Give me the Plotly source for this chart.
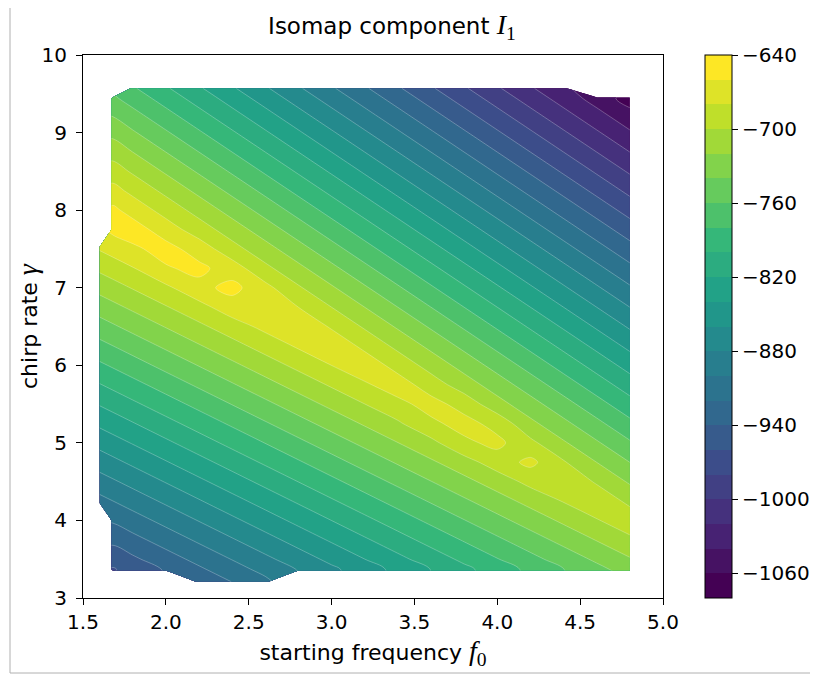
import plotly.graph_objects as go
from plotly.colors import sample_colorscale

N = None
# starting frequency f0 grid (columns) and chirp rate gamma grid (rows)
f0 = [1.60, 1.68, 1.8, 2.0, 2.2, 2.4, 2.6, 2.8, 3.0, 3.2, 3.4, 3.6, 3.8, 4.0, 4.2, 4.4, 4.6, 4.8]
gamma = [3.21, 3.37, 3.5, 3.75, 4.0, 4.25, 4.5, 4.75, 5.0, 5.25, 5.5, 5.75, 6.0, 6.25,
         6.5, 6.75, 7.0, 7.25, 7.5, 7.75, 8.0, 8.25, 8.5, 8.75, 9.0, 9.25, 9.44, 9.57]

# Isomap component I1 (None = no samples)
I1 = [
    [N, N, N, N, -934.4, -919.6, -904.8, N, N, N, N, N, N, N, N, N, N, N],
    [N, -961.7, -952.8, -938.0, -923.2, -908.4, -893.6, -878.8, -864.0, -849.2, -834.4, -819.6, -804.8, -790.0, -775.2, -760.4, -745.6, -730.8],
    [N, -952.6, -943.7, -928.9, -914.1, -899.3, -884.5, -869.7, -854.9, -840.1, -825.3, -810.5, -795.7, -780.9, -766.1, -751.3, -736.5, -721.7],
    [N, -935.1, -926.2, -911.4, -896.6, -881.8, -867.0, -852.2, -837.4, -822.6, -807.8, -793.0, -778.2, -763.4, -748.6, -733.8, -719.0, -704.2],
    [N, -917.6, -908.7, -893.9, -879.1, -864.3, -849.5, -834.7, -819.9, -805.1, -790.3, -775.5, -760.7, -745.9, -731.1, -716.3, -701.5, -687.6],
    [-906.0, -900.1, -891.2, -876.4, -861.6, -846.8, -832.0, -817.2, -802.4, -787.6, -772.8, -758.0, -743.2, -728.4, -713.6, -698.8, -685.1, -705.1],
    [-888.5, -882.6, -873.7, -858.9, -844.1, -829.3, -814.5, -799.7, -784.9, -770.1, -755.3, -740.5, -725.7, -710.9, -694.0, -682.6, -702.6, -722.6],
    [-871.0, -865.1, -856.2, -841.4, -826.6, -811.8, -797.0, -782.2, -767.4, -752.6, -737.8, -723.0, -708.2, -690.0, -675.0, -698.0, -720.1, -740.1],
    [-853.5, -847.6, -838.7, -823.9, -809.1, -794.3, -779.5, -764.7, -749.9, -735.1, -720.3, -705.5, -684.0, -675.0, -695.0, -717.6, -737.6, -757.6],
    [-836.0, -830.1, -821.2, -806.4, -791.6, -776.8, -762.0, -747.2, -732.4, -717.6, -702.8, -684.0, -673.0, -687.0, -715.1, -735.1, -755.1, -775.1],
    [-818.5, -812.6, -803.7, -788.9, -774.1, -759.3, -744.5, -729.7, -714.9, -700.1, -685.3, -672.6, -688.0, -712.6, -732.6, -752.6, -772.6, -792.6],
    [-801.0, -795.1, -786.2, -771.4, -756.6, -741.8, -727.0, -712.2, -697.4, -682.6, -670.1, -690.1, -710.1, -730.1, -750.1, -770.1, -790.1, -810.1],
    [-783.5, -777.6, -768.7, -753.9, -739.1, -724.3, -709.5, -694.7, -679.9, -667.6, -687.6, -707.6, -727.6, -747.6, -767.6, -787.6, -807.6, -827.6],
    [-766.0, -760.1, -751.2, -736.4, -721.6, -706.8, -692.0, -677.2, -665.1, -685.1, -705.1, -725.1, -745.1, -765.1, -785.1, -805.1, -825.1, -845.1],
    [-748.5, -742.6, -733.7, -718.9, -704.1, -689.3, -674.5, -662.6, -682.6, -702.6, -722.6, -742.6, -762.6, -782.6, -802.6, -822.6, -842.6, -862.6],
    [-731.0, -725.1, -716.2, -701.4, -686.6, -669.0, -661.0, -680.1, -700.1, -720.1, -740.1, -760.1, -780.1, -800.1, -820.1, -840.1, -860.1, -880.1],
    [-713.5, -707.6, -698.7, -683.9, -666.0, -654.0, -674.0, -697.6, -717.6, -737.6, -757.6, -777.6, -797.6, -817.6, -837.6, -857.6, -877.6, -897.6],
    [-696.0, -690.1, -681.2, -662.0, -655.1, -670.0, -695.1, -715.1, -735.1, -755.1, -775.1, -795.1, -815.1, -835.1, -855.1, -875.1, -895.1, -915.1],
    [-678.5, -672.6, -663.7, -652.6, -669.0, -692.6, -712.6, -732.6, -752.6, -772.6, -792.6, -812.6, -832.6, -852.6, -872.6, -892.6, -912.6, -932.6],
    [N, -655.1, -650.1, -670.1, -690.1, -710.1, -730.1, -750.1, -770.1, -790.1, -810.1, -830.1, -850.1, -870.1, -890.1, -910.1, -930.1, -950.1],
    [N, -655.6, -667.6, -687.6, -707.6, -727.6, -747.6, -767.6, -787.6, -807.6, -827.6, -847.6, -867.6, -887.6, -907.6, -927.6, -947.6, -967.6],
    [N, -673.1, -685.1, -705.1, -725.1, -745.1, -765.1, -785.1, -805.1, -825.1, -845.1, -865.1, -885.1, -905.1, -925.1, -945.1, -965.1, -985.1],
    [N, -690.6, -702.6, -722.6, -742.6, -762.6, -782.6, -802.6, -822.6, -842.6, -862.6, -882.6, -902.6, -922.6, -942.6, -962.6, -982.6, -1002.6],
    [N, -708.1, -720.1, -740.1, -760.1, -780.1, -800.1, -820.1, -840.1, -860.1, -880.1, -900.1, -920.1, -940.1, -960.1, -980.1, -1000.1, -1020.1],
    [N, -725.6, -737.6, -757.6, -777.6, -797.6, -817.6, -837.6, -857.6, -877.6, -897.6, -917.6, -937.6, -957.6, -977.6, -997.6, -1017.6, -1037.6],
    [N, -743.1, -755.1, -775.1, -795.1, -815.1, -835.1, -855.1, -875.1, -895.1, -915.1, -935.1, -955.1, -975.1, -995.1, -1015.1, -1035.1, -1055.1],
    [N, -756.4, -768.4, -788.4, -808.4, -828.4, -848.4, -868.4, -888.4, -908.4, -928.4, -948.4, -968.4, -988.4, -1008.4, -1028.4, -1048.4, -1068.4],
    [N, N, -777.5, -797.5, -817.5, -837.5, -857.5, -877.5, -897.5, -917.5, -937.5, -957.5, -977.5, -997.5, -1017.5, -1037.5, N, N],
]

level_start, level_end, level_step = -1080, -640, 20
cbar_ticks = [-1060, -1000, -940, -880, -820, -760, -700, -640]
cbar_ticktext = ["\u2212" + str(abs(v)) for v in cbar_ticks]
x_ticks = [1.5, 2.0, 2.5, 3.0, 3.5, 4.0, 4.5, 5.0]
y_ticks = [3, 4, 5, 6, 7, 8, 9, 10]

# discrete viridis bands like matplotlib contourf
nb = int((level_end - level_start) / level_step)  # 22 bands
nlev = nb + 1
cols = sample_colorscale("Viridis", [k / (nb - 1) for k in range(nb)])
# contour fill: band k is painted with the colour at position (k+1)/(nb+1)
fill_scale = [[0.0, cols[0]]]
for k in range(nb):
    fill_scale.append([(k + 1) / nlev, cols[k]])
fill_scale.append([1.0, cols[-1]])
# stepped scale for the colour bar spanning exactly the level range
bar_scale = []
for k in range(nb):
    bar_scale.append([k / nb, cols[k]])
    bar_scale.append([(k + 1) / nb, cols[k]])

# page body has an 8px margin: work in figure pixels = screen pixels - 8
OFF = 8
W, H = 818 - OFF, 677 - OFF
L, R, T, B = 83 - OFF, 663 - OFF, 55 - OFF, 598 - OFF
pw, ph = R - L, B - T

font = "DejaVu Sans, Verdana, sans-serif"

fig = go.Figure()
fig.add_trace(go.Contour(
    x=f0, y=gamma, z=I1,
    connectgaps=False,
    colorscale=fill_scale,
    showscale=False,
    contours=dict(start=level_start, end=level_end, size=level_step,
                  coloring="fill", showlines=True),
    line=dict(color="rgba(255,255,255,0.45)", width=0.6),
    hoverinfo="skip",
))
# colour bar carrier (no visible marker)
fig.add_trace(go.Scatter(
    x=[None], y=[None], mode="markers", showlegend=False, hoverinfo="skip",
    marker=dict(
        color=[level_start], cmin=level_start, cmax=level_end,
        colorscale=bar_scale, showscale=True,
        colorbar=dict(
            x=(705 - OFF - L) / pw, xanchor="left", xpad=0,
            y=0.5, yanchor="middle", ypad=0,
            len=ph, lenmode="pixels", thickness=27,
            outlinecolor="black", outlinewidth=1,
            tickvals=cbar_ticks, ticktext=cbar_ticktext,
            ticks="outside", ticklen=6, tickwidth=1, tickcolor="black",
            tickfont=dict(family=font, size=20, color="black"),
        ),
    ),
))

fig.update_layout(
    width=W, height=H,
    margin=dict(l=L, r=W - R, t=T, b=H - B, autoexpand=False),
    paper_bgcolor="white", plot_bgcolor="white",
    font=dict(family=font, size=20, color="black"),
    title=dict(
        text="Isomap component <span style='font-family:Liberation Serif;font-size:28px'><i>I</i><sub>1</sub></span>",
        x=(392 - OFF) / W, xanchor="center", y=1 - (26 - OFF) / H, yanchor="middle",
        font=dict(family=font, size=23, color="black"),
    ),
    xaxis=dict(
        range=[1.5, 5.0], tickvals=x_ticks, tickformat=".1f",
        showline=True, mirror=True, linecolor="black", linewidth=1.2,
        ticks="outside", ticklen=6, tickwidth=1, tickcolor="black",
        showgrid=False, zeroline=False,
        tickfont=dict(size=20),
        title=dict(text="starting frequency <span style='font-family:Liberation Serif;font-size:28px'><i>f</i><sub>0</sub></span>",
                   font=dict(size=22), standoff=11),
    ),
    yaxis=dict(
        range=[3, 10], tickvals=y_ticks,
        showline=True, mirror=True, linecolor="black", linewidth=1.2,
        ticks="outside", ticklen=6, tickwidth=1, tickcolor="black",
        ticklabelstandoff=5,
        showgrid=False, zeroline=False,
        tickfont=dict(size=20),
    ),
    annotations=[
        dict(text="chirp rate <span style='font-family:Liberation Serif;font-size:28px'><i>γ</i></span>",
             xref="paper", yref="paper",
             x=(28 - OFF - L) / pw, y=(B - (326 - OFF)) / ph,
             xanchor="center", yanchor="middle", textangle=-90, showarrow=False,
             font=dict(family=font, size=22, color="black")),
    ],
    shapes=[
        dict(type="line", xref="paper", yref="paper",
             x0=(10 - OFF - L) / pw, x1=(10 - OFF - L) / pw,
             y0=(B - (673 - OFF)) / ph, y1=(B + OFF + 2) / ph,
             line=dict(color="#b0b0b0", width=1)),
        dict(type="line", xref="paper", yref="paper",
             x0=(10 - OFF - L) / pw, x1=(W + 2 - L) / pw,
             y0=(B - (673 - OFF)) / ph, y1=(B - (673 - OFF)) / ph,
             line=dict(color="#b0b0b0", width=1)),
    ],
)

fig.write_html("out.html")
